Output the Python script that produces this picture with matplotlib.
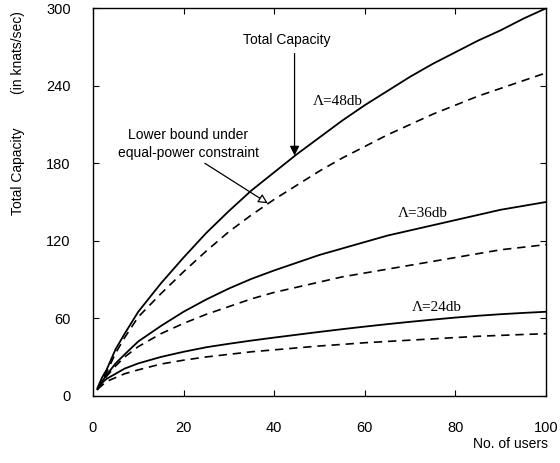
import matplotlib
matplotlib.use("Agg")
import matplotlib.pyplot as plt

users = [1, 2, 3, 5, 7, 10, 15, 20, 25, 30, 35, 40, 45, 50, 55, 60, 65, 70,
         75, 80, 85, 90, 95, 100]

total_48 = [6, 14, 20, 36, 48, 65, 87, 107, 126, 143, 159, 173, 187, 200,
            213, 225, 236, 247, 257, 266, 275, 283, 292, 300]
lower_48 = [5, 12, 18, 33, 45, 61, 79, 96, 112, 127, 140, 152, 163, 174,
            184, 193, 202, 210, 218, 225, 232, 238, 244, 250]
total_36 = [5, 11, 16, 25, 32, 42, 54, 65, 74.5, 83, 90.5, 97, 103, 109,
            114, 119, 124, 128, 132, 136, 140, 144, 147, 150]
lower_36 = [5, 10, 15, 23, 30, 38, 48, 56, 63, 69, 75, 80, 84, 88,
            92, 95, 98, 101, 104, 107, 110, 113, 115, 117]
total_24 = [5, 10, 13, 17, 21, 25, 30, 34, 37.5, 40.2, 42.7, 45, 47.2, 49.4,
            51.5, 53.5, 55.4, 57.2, 58.9, 60.5, 61.9, 63.1, 64.1, 65]
lower_24 = [5, 8, 11, 14, 17, 20, 24.5, 27.5, 30, 32, 34, 35.5, 37, 38.5,
            39.7, 41, 42, 43, 44, 45, 46, 46.7, 47.4, 48]

xticks = [0, 20, 40, 60, 80, 100]
yticks = [0, 60, 120, 180, 240, 300]

sans = "Liberation Sans"
serif = "Liberation Serif"

fig = plt.figure(figsize=(5.6, 4.63), dpi=100)
ax = fig.add_axes([0.166, 0.1454, 0.809, 0.8366])

dash = (0, (5, 3.5))
for tot, low in [(total_48, lower_48), (total_36, lower_36), (total_24, lower_24)]:
    ax.plot(users, tot, color="black", lw=1.3)
    ax.plot(users, low, color="black", lw=1.2, linestyle=dash)

ax.set_xlim(0, 100)
ax.set_ylim(0, 300)
ax.set_xticks(xticks)
ax.set_yticks(yticks)
ax.tick_params(direction="in", top=True, right=True, length=4, width=0.8)
ax.tick_params(axis="x", pad=18, labelsize=10.5)
ax.tick_params(axis="y", pad=16, labelsize=10.5)
for lab in ax.get_xticklabels() + ax.get_yticklabels():
    lab.set_family(sans)
for s in ax.spines.values():
    s.set_linewidth(1.0)

# axis labels
fig.text(548 / 560, 1 - 444 / 463, "No. of users", ha="right", va="center",
         family=sans, fontsize=10)
fig.text(18 / 560, 1 - 171 / 463, "Total Capacity", rotation=90, ha="center",
         va="center", family=sans, fontsize=10)
fig.text(18 / 560, 1 - 53 / 463, "(in knats/sec)", rotation=90, ha="center",
         va="center", family=sans, fontsize=10)

# curve labels
ax.text(54.0, 228, "\u039b=48db", family=serif, fontsize=11, ha="center", va="center")
ax.text(72.8, 141, "\u039b=36db", family=serif, fontsize=11, ha="center", va="center")
ax.text(76.0, 68, "\u039b=24db", family=serif, fontsize=11, ha="center", va="center")

# annotations
ax.text(42.8, 275.5, "Total Capacity", ha="center", va="center", family=sans,
        fontsize=10)
ax.annotate("", xy=(44.5, 186), xytext=(44.5, 265),
            arrowprops=dict(arrowstyle="-|>", color="black", lw=0.9,
                            shrinkA=0, shrinkB=0, mutation_scale=14))
ax.text(21, 195, "Lower bound under\nequal-power constraint", ha="center",
        va="center", family=sans, fontsize=10, linespacing=1.3)
ax.annotate("", xy=(38.6, 149), xytext=(24.7, 180),
            arrowprops=dict(arrowstyle="-|>", color="black", fc="white",
                            lw=0.9, shrinkA=0, shrinkB=0, mutation_scale=14))

fig.savefig("out.png", dpi=100)
